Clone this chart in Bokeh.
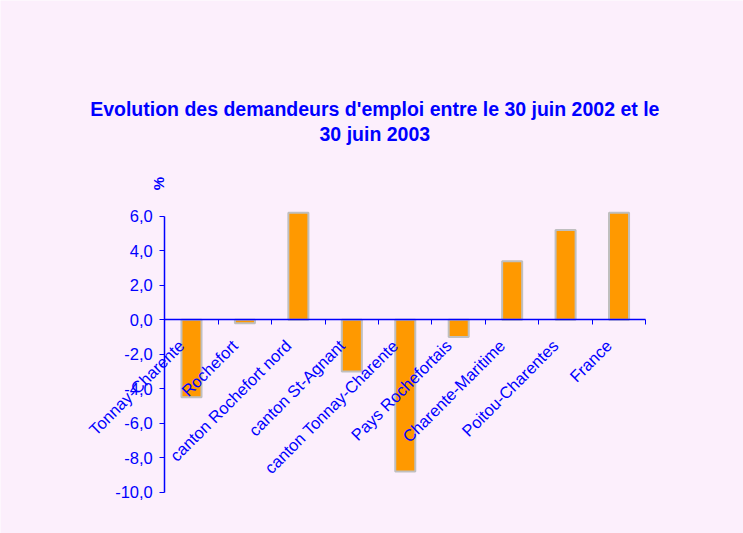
import math
from bokeh.plotting import figure
from bokeh.models import Range1d, FixedTicker, Label, ColumnDataSource
from bokeh.embed import file_html
from bokeh.resources import INLINE

categories = ["Tonnay-Charente", "Rochefort", "canton Rochefort nord", "canton St-Agnant",
              "canton Tonnay-Charente", "Pays Rochefortais", "Charente-Maritime",
              "Poitou-Charentes", "France"]
values = [-4.5, -0.2, 6.2, -3.0, -8.8, -1.0, 3.4, 5.2, 6.2]
y_ticks = [-10, -8, -6, -4, -2, 0, 2, 4, 6]
y_tick_labels = ["-10,0", "-8,0", "-6,0", "-4,0", "-2,0", "0,0", "2,0", "4,0", "6,0"]
title_lines = ["Evolution des demandeurs d'emploi entre le 30 juin 2002 et le", "30 juin 2003"]
unit_label = "%"

BG = "#FCEFFC"
BLUE = "#0000FF"
FONT = "Liberation Sans"
LABEL_SHIFT = 0.19  # rotated category labels sit a little left of the bar centres

n = len(categories)
centers = [i + 0.5 for i in range(n)]
label_pos = [c - LABEL_SHIFT for c in centers]
src = ColumnDataSource(dict(x=centers, top=values, name=categories))

# frame spans the whole canvas; axes are pinned inside it
p = figure(width=743, height=533, output_backend="svg", toolbar_location=None,
           x_range=Range1d(-3.074, 10.829), y_range=Range1d(-12.40, 18.52),
           min_border=0, min_border_left=0, min_border_right=0,
           min_border_top=0, min_border_bottom=0)
p.background_fill_color = BG
p.border_fill_color = BG
p.outline_line_color = None
p.grid.visible = False

p.vbar(x="x", top="top", bottom=0, width=0.375, source=src,
       fill_color="#FF9900", line_color="#BFBFBF", line_width=2)

# x axis at y = 0
xa = p.xaxis[0]
xa.fixed_location = 0
xa.bounds = (0, n)
xa.ticker = FixedTicker(ticks=label_pos, minor_ticks=list(range(n + 1)))
xa.major_label_overrides = {c: lab for c, lab in zip(label_pos, categories)}
xa.major_label_orientation = math.pi / 4
xa.major_tick_line_color = None
xa.minor_tick_line_color = BLUE
xa.minor_tick_out = 5
xa.minor_tick_in = 0
xa.axis_line_color = BLUE
xa.axis_line_width = 1.5
xa.major_label_text_color = BLUE
xa.major_label_text_font = FONT
xa.major_label_text_font_size = "16.5px"
xa.major_label_standoff = 17

# y axis at x = 0
ya = p.yaxis[0]
ya.fixed_location = 0
ya.bounds = (-10, 6)
ya.ticker = FixedTicker(ticks=y_ticks, minor_ticks=[])
ya.major_label_overrides = {t: lab for t, lab in zip(y_ticks, y_tick_labels)}
ya.major_tick_out = 5
ya.major_tick_in = 0
ya.major_tick_line_color = BLUE
ya.minor_tick_line_color = None
ya.axis_line_color = BLUE
ya.axis_line_width = 1.5
ya.major_label_text_color = BLUE
ya.major_label_text_font = FONT
ya.major_label_text_font_size = "16.5px"
ya.major_label_standoff = 7

# title lines and unit, placed through the data scales
p.add_layout(Label(x=3.93, y=12.2, text=title_lines[0], text_align="center", text_baseline="middle",
                   text_color=BLUE, text_font=FONT, text_font_style="bold", text_font_size="19.5px"))
p.add_layout(Label(x=3.93, y=10.78, text=title_lines[1], text_align="center", text_baseline="middle",
                   text_color=BLUE, text_font=FONT, text_font_style="bold", text_font_size="19.5px"))
p.add_layout(Label(x=-0.11, y=7.9, text=unit_label, text_align="center", text_baseline="middle",
                   angle=math.pi / 2, text_color=BLUE, text_font=FONT, text_font_style="bold",
                   text_font_size="15px"))

open("out.html", "w").write(file_html(p, INLINE))
